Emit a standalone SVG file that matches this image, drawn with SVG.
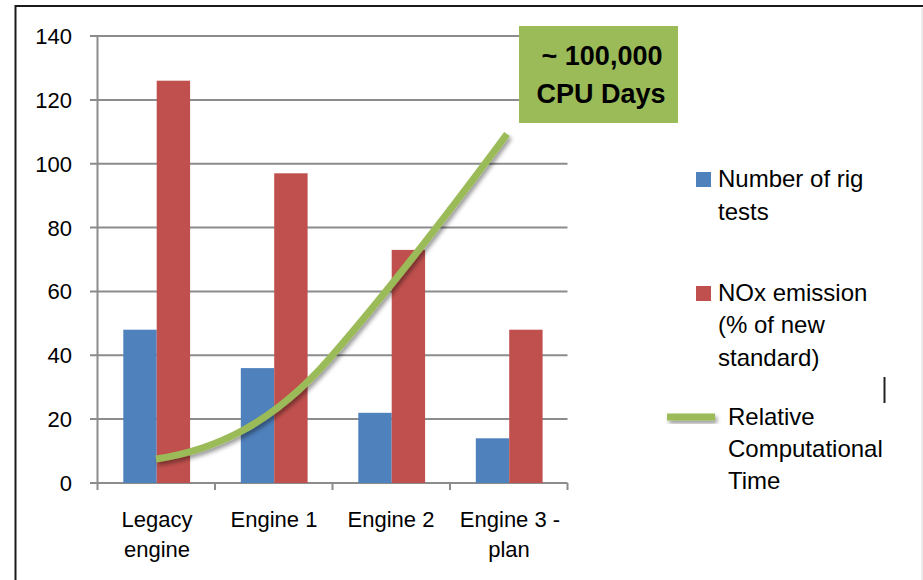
<svg xmlns="http://www.w3.org/2000/svg" width="923" height="580" viewBox="0 0 923 580">
  <style>
    .grid { stroke: #8c8c8c; stroke-width: 2; fill: none; }
    .lbl { font-family: "Liberation Sans", Arial, sans-serif; font-size: 22px; fill: #000; }
    .ylbl { text-anchor: end; }
    .xlbl { text-anchor: middle; }
    .leg { font-family: "Liberation Sans", Arial, sans-serif; font-size: 24px; fill: #000; }
    .blue { fill: #4f81bd; }
    .red { fill: #c0504d; }
    .green { fill: #9bbb59; }
    .trend { fill: none; stroke: #9bbb59; stroke-width: 7; stroke-linecap: butt; }
    .callout { font-family: "Liberation Sans", Arial, sans-serif; font-size: 27px; font-weight: bold; text-anchor: middle; fill: #000; }
  </style>
  <defs>
    <filter id="soft-shadow" x="-20%" y="-20%" width="140%" height="160%">
      <feDropShadow dx="2" dy="3" stdDeviation="2" flood-color="#000" flood-opacity="0.4"/>
    </filter>
  </defs>

  <rect width="923" height="580" fill="#fff"/>

  <!-- chart frame -->
  <path d="M15.5 590 V6 H930" fill="none" stroke="#1a1a1a" stroke-width="2"/>
  <line x1="922" y1="8" x2="922" y2="580" stroke="#d8d8d8" stroke-width="1"/>
  <rect x="883.5" y="377" width="2" height="26" fill="#222"/>

  <!-- gridlines and axes -->
  <g id="axes">
    <path class="grid" d="M90 36 H567.5 M90 99.9 H567.5 M90 163.7 H567.5 M90 227.6 H567.5 M90 291.4 H567.5 M90 355.3 H567.5 M90 419.1 H567.5 M90 483 H567.5"/>
    <path class="grid" d="M97.5 36 V490 M215 483 V490 M332.5 483 V490 M450 483 V490 M567.5 483 V490"/>
  </g>

  <g id="y-labels">
    <text class="lbl ylbl" x="72" y="44">140</text>
    <text class="lbl ylbl" x="72" y="108">120</text>
    <text class="lbl ylbl" x="72" y="172">100</text>
    <text class="lbl ylbl" x="72" y="236">80</text>
    <text class="lbl ylbl" x="72" y="299">60</text>
    <text class="lbl ylbl" x="72" y="363">40</text>
    <text class="lbl ylbl" x="72" y="427">20</text>
    <text class="lbl ylbl" x="72" y="491">0</text>
  </g>

  <!-- bars: rig tests (blue) and NOx emission (red) -->
  <g id="bars">
    <rect class="blue" x="123.3" y="329.7" width="33.4" height="153.3"/>
    <rect class="red" x="156.7" y="80.7" width="33.4" height="402.3"/>
    <rect class="blue" x="240.8" y="368.1" width="33.4" height="114.9"/>
    <rect class="red" x="274.2" y="173.3" width="33.4" height="309.7"/>
    <rect class="blue" x="358.3" y="412.8" width="33.4" height="70.2"/>
    <rect class="red" x="391.7" y="249.9" width="33.4" height="233.1"/>
    <rect class="blue" x="475.8" y="438.3" width="33.4" height="44.7"/>
    <rect class="red" x="509.2" y="329.7" width="33.4" height="153.3"/>
  </g>

  <g id="x-labels">
    <text class="lbl xlbl" x="157" y="527">Legacy</text>
    <text class="lbl xlbl" x="157" y="557">engine</text>
    <text class="lbl xlbl" x="274" y="527">Engine 1</text>
    <text class="lbl xlbl" x="391" y="527">Engine 2</text>
    <text class="lbl xlbl" x="510" y="527">Engine 3 -</text>
    <text class="lbl xlbl" x="509" y="557">plan</text>
  </g>

  <!-- relative computational time curve -->
  <g id="connectors">
    <path class="trend" filter="url(#soft-shadow)" d="M156 459 C214 450.3 272 424.7 330 358 C389 290.2 448 213.7 507 134"/>
  </g>

  <g id="callout">
    <rect x="519" y="26" width="159" height="97" fill="#9bbb59"/>
    <text class="callout" x="602" y="65">~ 100,000</text>
    <text class="callout" x="601" y="103">CPU Days</text>
  </g>

  <g id="legend">
    <rect class="blue" x="696" y="172" width="15" height="15"/>
    <text class="leg" x="718" y="187">Number of rig</text>
    <text class="leg" x="718" y="220">tests</text>
    <rect class="red" x="696" y="286" width="15" height="15"/>
    <text class="leg" x="718" y="301">NOx emission</text>
    <text class="leg" x="718" y="333">(% of new</text>
    <text class="leg" x="718" y="366">standard)</text>
    <rect class="green" filter="url(#soft-shadow)" x="667" y="413.5" width="48" height="7"/>
    <text class="leg" x="728" y="425">Relative</text>
    <text class="leg" x="728" y="457">Computational</text>
    <text class="leg" x="728" y="489">Time</text>
  </g>
</svg>
